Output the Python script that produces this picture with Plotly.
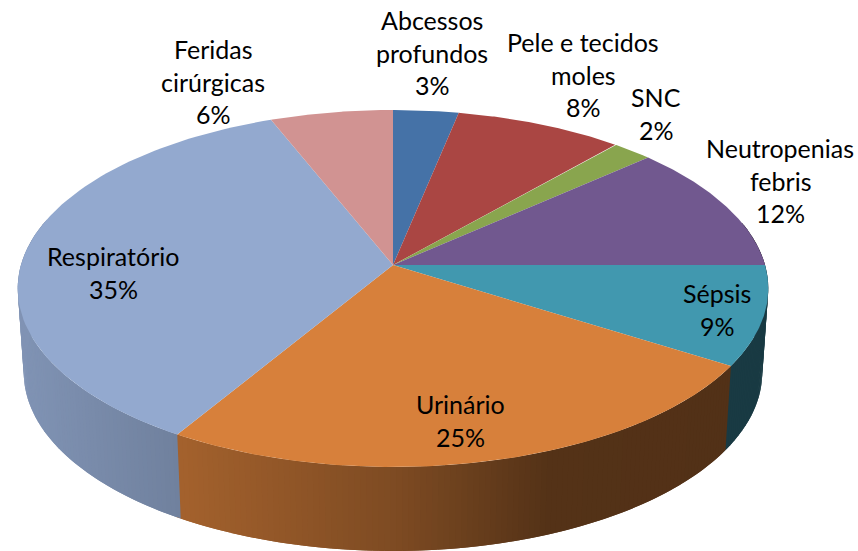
import math
import numpy as np
import plotly.graph_objects as go

# --- data ---
categories = ["Abcessos profundos", "Pele e tecidos moles", "SNC", "Neutropenias febris",
              "Sépsis", "Urinário", "Respiratório", "Feridas cirúrgicas"]
values = [3.2, 8.2, 2.0, 11.6, 9.0, 24.6, 35.4, 6.0]
colors = ["#4572A7", "#AA4643", "#89A54E", "#71588F", "#4198AF", "#D7803B", "#93A9CF", "#D19392"]

# --- label layout (text lines and pixel centres) ---
label_lines = [["Abcessos", "profundos"], ["Pele e tecidos", "moles"], ["SNC"], ["Neutropenias", "febris"],
               ["Sépsis"], ["Urinário"], ["Respiratório"], ["Feridas", "cirúrgicas"]]
label_x = [432, 583, 656, 780, 717, 460, 113, 213]
label_y = [20, 42, 97, 148, 293, 404, 256, 49]
LINE = 32.6
FONT = "Lato, Carlito, Calibri, sans-serif"
FONT_SIZE = 25

# --- projection of the tilted disc on to the page ---
CX, K = 393, 0.1317
TOP = dict(rx=372, ry=175.4, y0=265)
BOT = dict(rx=366, ry=175.4, y0=349)


def project(theta, level):
    u, v = math.sin(theta), math.cos(theta)
    d = 1 + K * v
    return CX + level["rx"] * u / d, level["y0"] - level["ry"] * v / d


def shade(x):
    return float(np.interp(x, [20, 180, 400, 550, 770], [0.87, 0.76, 0.58, 0.39, 0.38]))


def tint(hex_color, f):
    r, g, b = (int(hex_color[i:i + 2], 16) for i in (1, 3, 5))
    return f"rgb({r * f:.0f},{g * f:.0f},{b * f:.0f})"


def poly(xs, ys, color):
    return go.Scatter(x=xs, y=ys, mode="lines", fill="toself", fillcolor=color,
                      line=dict(width=0), hoverinfo="skip", showlegend=False)


fig = go.Figure()
total = sum(values)
cum = np.cumsum([0] + values) / total * 2 * math.pi

# side wall, in narrow overlapping strips so the shading runs smoothly across it
STEP = math.radians(0.8)
for i, c in enumerate(colors):
    a0, a1 = cum[i], cum[i + 1]
    n = max(2, int((a1 - a0) / STEP))
    edges = np.linspace(a0, a1, n + 1)
    for t0, t1 in zip(edges[:-1], edges[1:]):
        if math.cos((t0 + t1) / 2) > 0.25:
            continue
        end = min(t1 + STEP, 2 * math.pi)
        p = [project(t0, TOP), project(t1, TOP), project(end, TOP),
             project(end, BOT), project(t1, BOT), project(t0, BOT)]
        xs = [q[0] for q in p] + [p[0][0]]
        ys = [q[1] for q in p] + [p[0][1]]
        xm = (project(t0, TOP)[0] + project(t1, TOP)[0]) / 2
        fig.add_trace(poly(xs, ys, tint(c, shade(xm))))

# top surface
for i, c in enumerate(colors):
    pts = [project(t, TOP) for t in np.linspace(cum[i], cum[i + 1], 90)]
    xs = [CX] + [q[0] for q in pts] + [CX]
    ys = [TOP["y0"]] + [q[1] for q in pts] + [TOP["y0"]]
    fig.add_trace(poly(xs, ys, c))

# labels
for lines, v, x, y in zip(label_lines, values, label_x, label_y):
    for j, t in enumerate(lines + [f"{v:.0f}%"]):
        fig.add_annotation(x=x, y=y + j * LINE, text=t, showarrow=False, xanchor="center", yanchor="middle",
                           font=dict(family=FONT, size=FONT_SIZE, color="#000000"))

fig.update_layout(width=858, height=551, margin=dict(l=0, r=0, t=0, b=0),
                  paper_bgcolor="white", plot_bgcolor="white", showlegend=False,
                  xaxis=dict(range=[0, 858], visible=False, fixedrange=True),
                  yaxis=dict(range=[551, 0], visible=False, fixedrange=True))
fig.write_html("out.html", config=dict(displayModeBar=False),
               post_script="document.body.style.margin='0';document.documentElement.style.overflow='hidden';")
